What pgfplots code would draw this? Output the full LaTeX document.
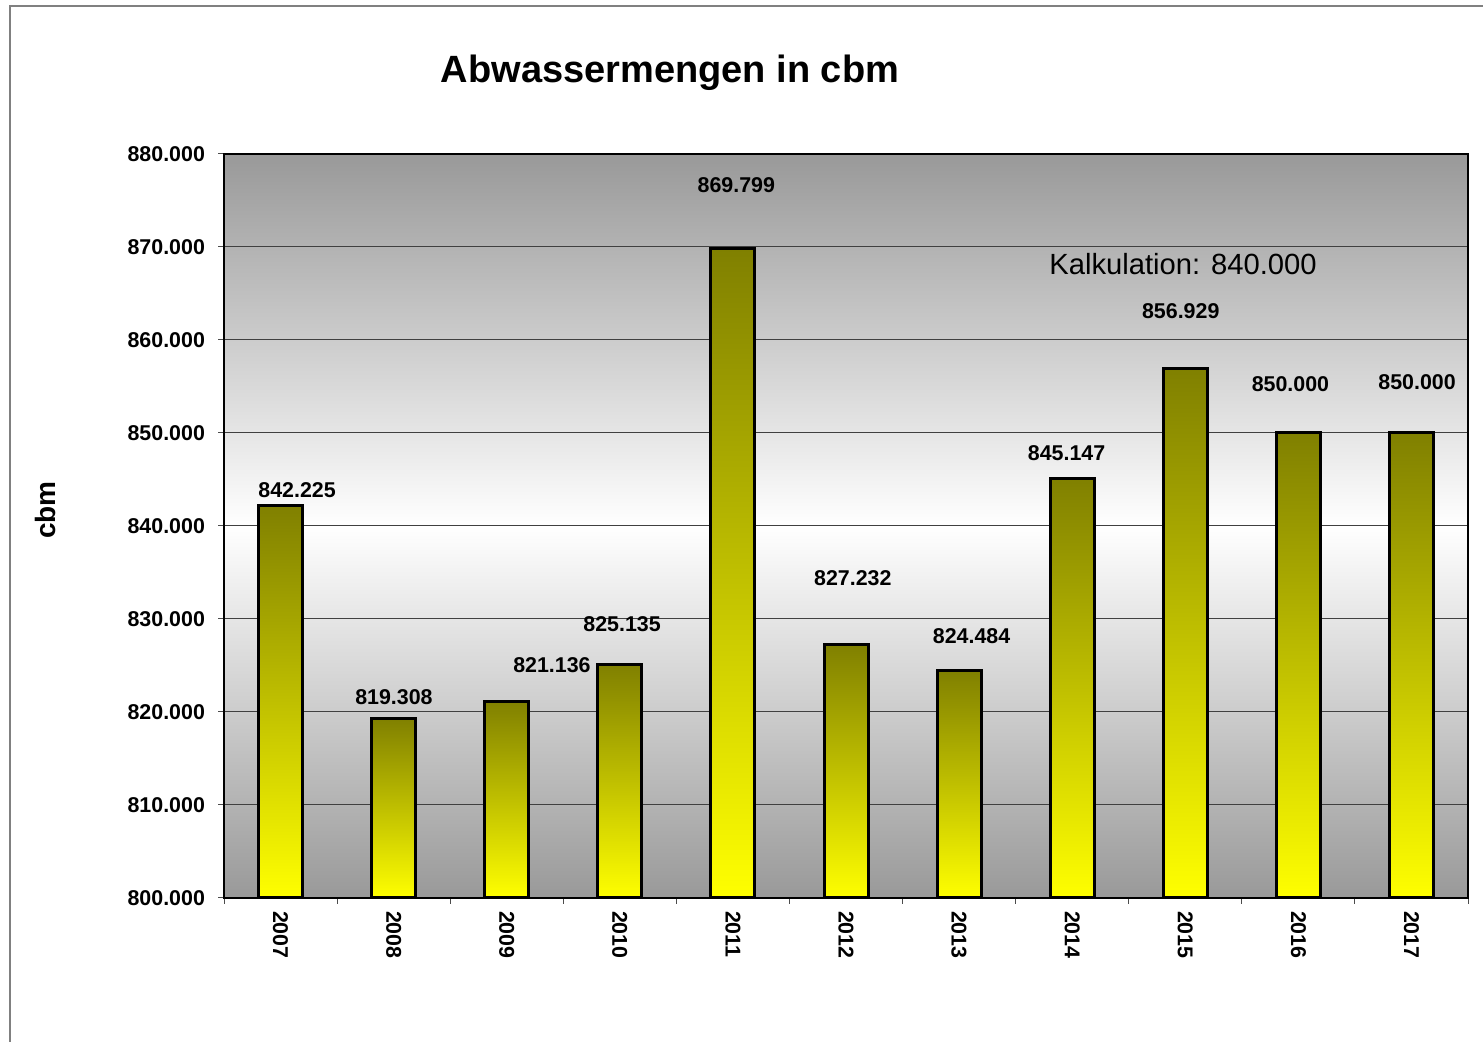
\documentclass[border=0pt]{standalone}
\usepackage{fontspec}
\setmainfont{Liberation Sans}
\usepackage{pgfplots}
\pgfplotsset{compat=1.18}
\definecolor{barTop}{RGB}{128,128,0}
\definecolor{barBot}{RGB}{255,255,0}
\definecolor{bgGray}{RGB}{153,153,153}
\definecolor{frameGray}{RGB}{128,128,128}

\begin{document}
\begin{tikzpicture}
\useasboundingbox (0,0) rectangle (741.5pt,521pt);
\draw[frameGray, line width=0.8pt] (5pt,0) -- (5pt,518pt) -- (741.5pt,518pt);
\node[font=\fontsize{19}{22}\selectfont\bfseries] at (335pt,484.5pt) {Abwassermengen in cbm};
\node[font=\fontsize{14}{16}\selectfont\bfseries, rotate=90] at (22.5pt,266pt) {cbm};
\begin{axis}[
  at={(112pt,72pt)}, anchor=south west,
  scale only axis, width=622pt, height=372pt,
  ymin=0, ymax=80000,
  scaled y ticks=false,
  ytick={0,10000,20000,30000,40000,50000,60000,70000,80000},
  yticklabels={800.000,810.000,820.000,830.000,840.000,850.000,860.000,870.000,880.000},
  xmin=-0.5, xmax=10.5,
  xtick={0,...,10},
  xticklabels={2007,2008,2009,2010,2011,2012,2013,2014,2015,2016,2017},
  minor xtick={-0.5,0.5,...,10.5},
  tick align=outside, tick pos=left,
  major tick length=3pt, minor tick length=3pt,
  major x tick style={draw=none},
  tick style={black!70, line width=0.5pt},
  ymajorgrids, grid style={black!75, line width=0.5pt},
  axis line style={black, line width=0.6pt},
  ticklabel style={font=\fontsize{10.7}{12}\selectfont\bfseries},
  yticklabel style={xshift=-3pt},
  xticklabel style={rotate=-90, anchor=west},
  /pgf/number format/assume math mode=true,
  axis background/.style={top color=bgGray, bottom color=bgGray, middle color=white},
  y filter/.expression={y-800000},
  bar/.style={ybar, bar shift=0pt, bar width=22pt, draw=black, line width=1.5pt, top color=barTop, bottom color=barBot},
]
\addplot[bar] coordinates {(0,842225)};
\addplot[bar] coordinates {(1,819308)};
\addplot[bar] coordinates {(2,821136)};
\addplot[bar] coordinates {(3,825135)};
\addplot[bar] coordinates {(4,869799)};
\addplot[bar] coordinates {(5,827232)};
\addplot[bar] coordinates {(6,824484)};
\addplot[bar] coordinates {(7,845147)};
\addplot[bar] coordinates {(8,856929)};
\addplot[bar] coordinates {(9,850000)};
\addplot[bar] coordinates {(10,850000)};
\begin{scope}[every node/.style={font=\fontsize{10.7}{12}\selectfont\bfseries, inner sep=0pt}]
\node at (axis cs:0.146,43870) {842.225};
\node at (axis cs:1.003,21610) {819.308};
\node at (axis cs:2.40,25050) {821.136};
\node at (axis cs:3.02,29460) {825.135};
\node at (axis cs:4.03,76670) {869.799};
\node at (axis cs:5.06,34410) {827.232};
\node at (axis cs:6.11,28170) {824.484};
\node at (axis cs:6.95,47850) {845.147};
\node at (axis cs:7.96,63120) {856.929};
\node at (axis cs:8.93,55270) {850.000};
\node at (axis cs:10.05,55480) {850.000};
\end{scope}
\node[font=\fontsize{14.6}{16}\selectfont, inner sep=0pt] at (axis cs:7.98,68200) {Kalkulation: 840.000};
\end{axis}
\end{tikzpicture}
\end{document}
